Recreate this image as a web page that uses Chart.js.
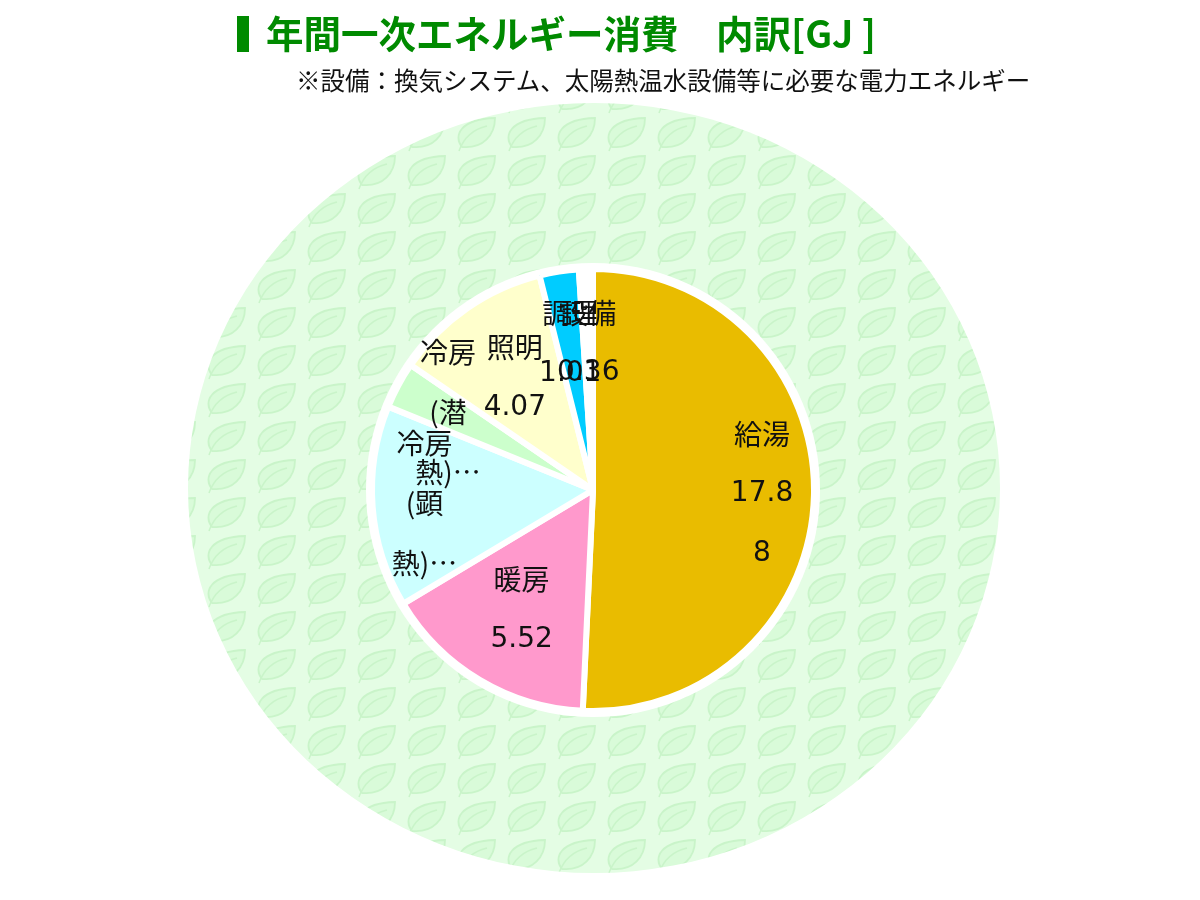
<!DOCTYPE html>
<html>
<head>
<meta charset="utf-8">
<script src="https://cdn.jsdelivr.net/npm/chart.js@4.4.1/dist/chart.umd.min.js"></script>
<style>
  html,body{margin:0;padding:0;background:#fff;}
  #wrap{position:relative;width:1200px;height:900px;overflow:hidden;}
  #c{position:absolute;left:0;top:0;}
  .bar{position:absolute;left:237px;top:16px;width:12px;height:36px;background:#008a00;}
  .title{position:absolute;left:266px;top:7px;font-family:"Noto Sans CJK JP";font-weight:bold;font-size:37.5px;color:#008a00;white-space:nowrap;line-height:50px;}
  .sub{position:absolute;left:296px;top:63px;font-family:"Noto Sans CJK JP";font-size:24.5px;color:#111;white-space:nowrap;line-height:34px;}
</style>
</head>
<body>
<div id="wrap">
  <canvas id="c" width="1200" height="900"></canvas>
  <div class="bar"></div>
  <div class="title" id="title"></div>
  <div class="sub" id="sub"></div>
</div>
<script>
// ---- data ----
const titleText = "年間一次エネルギー消費　内訳[GJ ]";
const noteText = "※設備：換気システム、太陽熱温水設備等に必要な電力エネルギー";
const categories = ["給湯", "暖房", "冷房(顕熱)", "冷房(潜熱)", "照明", "調理", "設備"];
const values = [17.88, 5.52, 5.2, 1.2, 4.07, 1.01, 0.36];
const sliceColors = ["#E9BC00", "#FF99CC", "#CCFFFF", "#CCFFCC", "#FFFFCC", "#00CCFF", "#FFFFFF"];
const labelLines = [
  ["給湯", "17.8", "8"],
  ["暖房", "5.52"],
  ["冷房", "(顕", "熱)…"],
  ["冷房", "(潜", "熱)…"],
  ["照明", "4.07"],
  ["調理", "1.01"],
  ["設備", "0.36"]
];
const labelRadialFrac = [0.765, 0.63, 0.765, 0.745, 0.62, 0.67, 0.665];

document.getElementById('title').textContent = titleText;
document.getElementById('sub').textContent = noteText;

// leaf pattern tile
function makeLeafPattern(ctx) {
  const t = document.createElement('canvas');
  t.width = 50; t.height = 38;
  const g = t.getContext('2d');
  g.fillStyle = '#E4FDE4';
  g.fillRect(0, 0, 50, 38);
  g.beginPath();
  g.moveTo(12, 33);
  g.bezierCurveTo(3, 22, 10, 5, 45, 4);
  g.bezierCurveTo(45, 21, 33, 35, 12, 33);
  g.closePath();
  g.fillStyle = '#D9FBD9';
  g.fill();
  g.lineWidth = 1.8;
  g.strokeStyle = '#C9F4C9';
  g.stroke();
  g.beginPath();
  g.moveTo(9, 37);
  g.quadraticCurveTo(16, 17, 37, 12);
  g.lineWidth = 1.5;
  g.stroke();
  return ctx.createPattern(t, 'repeat');
}

const bgPlugin = {
  id: 'bgLeaf',
  beforeDraw(chart) {
    const ctx = chart.ctx;
    const meta = chart.getDatasetMeta(0);
    const arc = meta.data[0];
    if (!arc) return;
    const p = arc.getProps(['x', 'y', 'outerRadius'], true);
    ctx.save();
    ctx.beginPath();
    ctx.ellipse(p.x + 1, p.y - 2, 406, 385, 0, 0, Math.PI * 2);
    ctx.fillStyle = makeLeafPattern(ctx);
    ctx.fill();
    // white ring behind pie
    ctx.beginPath();
    ctx.arc(p.x, p.y, p.outerRadius + 6, 0, Math.PI * 2);
    ctx.fillStyle = '#ffffff';
    ctx.fill();
    ctx.restore();
  }
};

const labelPlugin = {
  id: 'sliceLabels',
  afterDatasetsDraw(chart) {
    const ctx = chart.ctx;
    const meta = chart.getDatasetMeta(0);
    ctx.save();
    ctx.fillStyle = '#111';
    ctx.textAlign = 'center';
    ctx.textBaseline = 'middle';
    const lh = 60;
    meta.data.forEach((arc, i) => {
      const p = arc.getProps(['x', 'y', 'startAngle', 'endAngle', 'outerRadius'], true);
      const mid = (p.startAngle + p.endAngle) / 2;
      const r = p.outerRadius * labelRadialFrac[i];
      const cx = p.x + Math.cos(mid) * r;
      const cy = p.y + Math.sin(mid) * r;
      const lines = labelLines[i];
      const y0 = cy - (lines.length - 1) * lh / 2;
      lines.forEach((ln, k) => {
        ctx.font = (/^[0-9.]+$/.test(ln) ? '28px "DejaVu Sans"' : '28px "Noto Sans CJK JP"');
        ctx.fillText(ln, cx, y0 + k * lh);
      });
    });
    ctx.restore();
  }
};

new Chart(document.getElementById('c'), {
  type: 'pie',
  data: {
    labels: categories,
    datasets: [{
      data: values,
      backgroundColor: sliceColors,
      borderColor: '#ffffff',
      borderWidth: 6,
      radius: 221
    }]
  },
  options: {
    responsive: false,
    animation: false,
    layout: { padding: { left: 0, right: 14, top: 80, bottom: 0 } },
    plugins: {
      legend: { display: false },
      tooltip: { enabled: false },
      title: { display: false }
    }
  },
  plugins: [bgPlugin, labelPlugin]
});
</script>
</body>
</html>
